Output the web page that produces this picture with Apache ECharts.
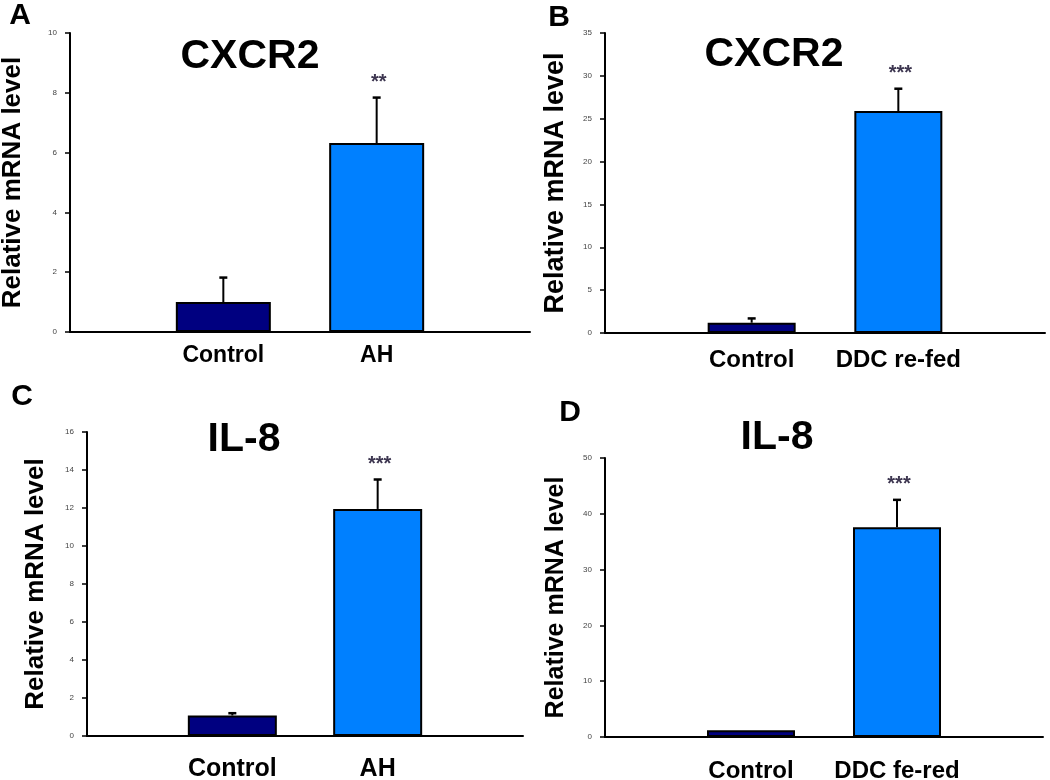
<!DOCTYPE html>
<html>
<head>
<meta charset="utf-8">
<script src="https://cdn.jsdelivr.net/npm/echarts@6/dist/echarts.min.js"></script>
<style>
html,body{margin:0;padding:0;background:#fff;}
#chart{width:1050px;height:780px;}
</style>
</head>
<body>
<div id="chart"></div>
<script>
// ---- data ----
const categoriesA = ['Control', 'AH'];
const valuesA = [1.0, 6.32];
const errorsA = [0.82, 1.52];
const starsA = ['', '**'];

const categoriesB = ['Control', 'DDC re-fed'];
const valuesB = [1.2, 25.9];
const errorsB = [0.5, 2.6];
const starsB = ['', '***'];

const categoriesC = ['Control', 'AH'];
const valuesC = [1.08, 11.95];
const errorsC = [0.12, 1.55];
const starsC = ['', '***'];

const categoriesD = ['Control', 'DDC fe-red'];
const valuesD = [1.2, 37.6];
const errorsD = [0, 4.9];
const starsD = ['', '***'];

const yMaxes = [10, 35, 16, 50];
const yIntervals = [2, 5, 2, 10];
const geneTitles = ['CXCR2', 'CXCR2', 'IL-8', 'IL-8'];
const panelLetters = ['A', 'B', 'C', 'D'];
const yAxisName = 'Relative mRNA level';
const barColors = ['#000080', '#0080ff'];

// ---- layout ----
const FONT = '"Liberation Sans", Arial, sans-serif';
const grids = [
  {left: 70, top: 33, width: 460, height: 299},
  {left: 605, top: 33, width: 440, height: 300},
  {left: 87, top: 432, width: 436, height: 304},
  {left: 605, top: 458, width: 438, height: 279}
];
const barWidths = [95, 88, 89, 88];
const yNameGaps = [44, 36, 38, 36];
const yNameSizes = [26, 27, 26, 25];
const xLabelSizes = [23, 24, 25, 24];
const xLabelMargins = [12, 15, 21, 22];

const panelCats = [categoriesA, categoriesB, categoriesC, categoriesD];
const panelVals = [valuesA, valuesB, valuesC, valuesD];
const panelErrs = [errorsA, errorsB, errorsC, errorsD];
const panelStars = [starsA, starsB, starsC, starsD];

const chart = echarts.init(document.getElementById('chart'), null, {renderer: 'canvas'});

const xAxes = [], yAxes = [], series = [];
for (let i = 0; i < 4; i++) {
  const cats = panelCats[i];
  xAxes.push({
    type: 'value', gridIndex: i, min: 0, max: 3, interval: 1,
    axisLine: {show: true, onZero: false, lineStyle: {color: '#000', width: 2}},
    axisTick: {show: false},
    splitLine: {show: false},
    axisLabel: {
      margin: xLabelMargins[i],
      fontFamily: FONT, fontWeight: 'bold', fontSize: xLabelSizes[i], color: '#000',
      formatter: v => (v >= 1 && v <= cats.length) ? cats[v - 1] : ''
    }
  });
  yAxes.push({
    type: 'value', gridIndex: i, min: 0, max: yMaxes[i], interval: yIntervals[i],
    axisLine: {show: true, lineStyle: {color: '#000', width: 2}},
    axisTick: {show: true, inside: false, length: 5, lineStyle: {color: '#000', width: 1.5}},
    splitLine: {show: false},
    axisLabel: {margin: 13, fontFamily: FONT, fontSize: 8, color: '#444'},
    name: yAxisName, nameLocation: 'middle', nameRotate: 90, nameGap: yNameGaps[i],
    nameTextStyle: {fontFamily: FONT, fontWeight: 'bold', fontSize: yNameSizes[i], color: '#000'}
  });
  const vals = panelVals[i], errs = panelErrs[i], stars = panelStars[i];
  series.push({
    type: 'bar', xAxisIndex: i, yAxisIndex: i, barWidth: barWidths[i],
    data: vals.map((v, k) => ({
      value: [k + 1, v],
      itemStyle: {color: barColors[k], borderColor: '#000', borderWidth: 2}
    })),
    silent: true, animation: false
  });
  series.push({
    type: 'custom', xAxisIndex: i, yAxisIndex: i, z: 5, silent: true, animation: false,
    encode: {x: 0, y: 1},
    data: vals.map((v, k) => [k + 1, v, errs[k]]),
    renderItem: function (params, api) {
      const x = api.value(0), m = api.value(1), e = api.value(2);
      const base = api.coord([x, m]);
      const top = api.coord([x, m + e]);
      const children = [];
      if (e > 0) {
        children.push({type: 'line', shape: {x1: base[0], y1: base[1], x2: top[0], y2: top[1]},
          style: {stroke: '#000', lineWidth: 2}});
        children.push({type: 'line', shape: {x1: top[0] - 4, y1: top[1], x2: top[0] + 4, y2: top[1]},
          style: {stroke: '#000', lineWidth: 2.5}});
      }
      const s = stars[params.dataIndex];
      if (s) {
        children.push({type: 'text', x: top[0] + 2, y: top[1] - 15,
          style: {text: s, align: 'center', verticalAlign: 'middle',
            font: 'bold 20px ' + FONT, fill: '#3d3650'}});
      }
      return {type: 'group', children: children};
    }
  });
}

const titlePos = [[250, 57], [774, 55], [244, 440], [777, 438]];
const letterPos = [[20, 16], [559, 18], [22, 397], [570, 413]];
const graphics = [];
for (let i = 0; i < 4; i++) {
  graphics.push({type: 'text', x: titlePos[i][0], y: titlePos[i][1], silent: true,
    style: {text: geneTitles[i], align: 'center', verticalAlign: 'middle',
      font: 'bold 41px ' + FONT, fill: '#000'}});
  graphics.push({type: 'text', x: letterPos[i][0], y: letterPos[i][1], silent: true,
    style: {text: panelLetters[i], align: 'center', verticalAlign: 'middle',
      font: 'bold 30px ' + FONT, fill: '#000'}});
}

chart.setOption({
  animation: false,
  backgroundColor: '#fff',
  grid: grids.map(g => Object.assign({containLabel: false, outerBoundsMode: 'none'}, g)),
  xAxis: xAxes,
  yAxis: yAxes,
  series: series,
  graphic: graphics
});
</script>
</body>
</html>
